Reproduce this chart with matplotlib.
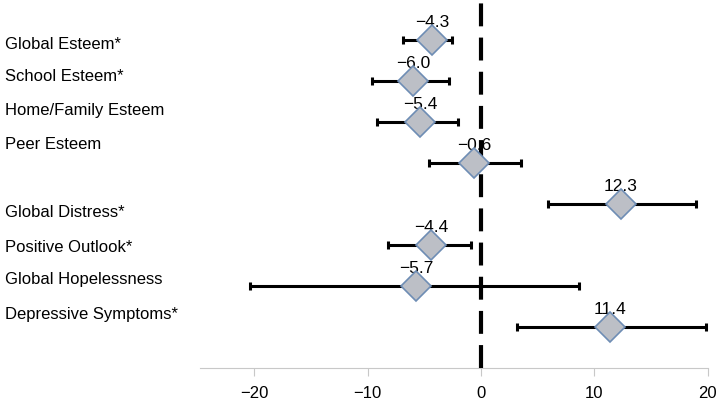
import matplotlib.pyplot as plt
from matplotlib.transforms import blended_transform_factory

plt.rcParams['font.family'] = ['Liberation Sans', 'DejaVu Sans']

outcomes = ['Global Esteem*', 'School Esteem*', 'Home/Family Esteem', 'Peer Esteem',
            'Global Distress*', 'Positive Outlook*', 'Global Hopelessness',
            'Depressive Symptoms*']
effect = [-4.3, -6.0, -5.4, -0.6, 12.3, -4.4, -5.7, 11.4]
ci_low = [-6.9, -9.6, -9.2, -4.6, 5.9, -8.2, -20.4, 3.2]
ci_high = [-2.6, -2.8, -2.0, 3.5, 19.0, -0.9, 8.6, 19.8]

# label rows don't line up exactly with the bars in the original
label_y = [0.1, 0.88, 1.71, 2.56, 4.2, 5.05, 5.85, 6.7]

fig = plt.figure(figsize=(7.23, 4.04), dpi=100)
ax = fig.add_axes([0.2766, 0.089, 0.7024, 0.911])

rows = list(range(len(outcomes)))
err = [[e - lo for e, lo in zip(effect, ci_low)],
       [hi - e for e, hi in zip(effect, ci_high)]]

ax.errorbar(effect, rows, xerr=err, fmt='none', ecolor='black', elinewidth=2.2,
            capsize=3, capthick=2.2, zorder=2)
ax.axvline(0, color='black', lw=3, ls=(0, (5.5, 2.7)), zorder=3)
ax.plot(effect, rows, ls='none', marker='D', markersize=15,
        markerfacecolor='#bcbfc6', markeredgecolor='#6e8db4',
        markeredgewidth=1.2, zorder=4)

for x, y in zip(effect, rows):
    txt = f'{x:.1f}'.replace('-', '\u2212')
    ax.annotate(txt, (x, y), xytext=(0, 7.5), textcoords='offset points',
                ha='center', va='bottom', fontsize=12.5)

trans = blended_transform_factory(fig.transFigure, ax.transData)
for name, y in zip(outcomes, label_y):
    ax.text(0.007, y, name, transform=trans, ha='left', va='center', fontsize=12)

ax.set_xlim(-24.8, 20)
ax.set_ylim(8.0, -0.976)
ax.set_xticks([-20, -10, 0, 10, 20])
ax.set_xticklabels(['\u221220', '\u221210', '0', '10', '20'], fontsize=12)
ax.set_yticks([])
for s in ['top', 'right', 'left']:
    ax.spines[s].set_visible(False)
ax.spines['bottom'].set_color('#c8c8c8')
ax.tick_params(axis='x', color='#c8c8c8', length=6, pad=7)

plt.savefig('out.png', dpi=100)
